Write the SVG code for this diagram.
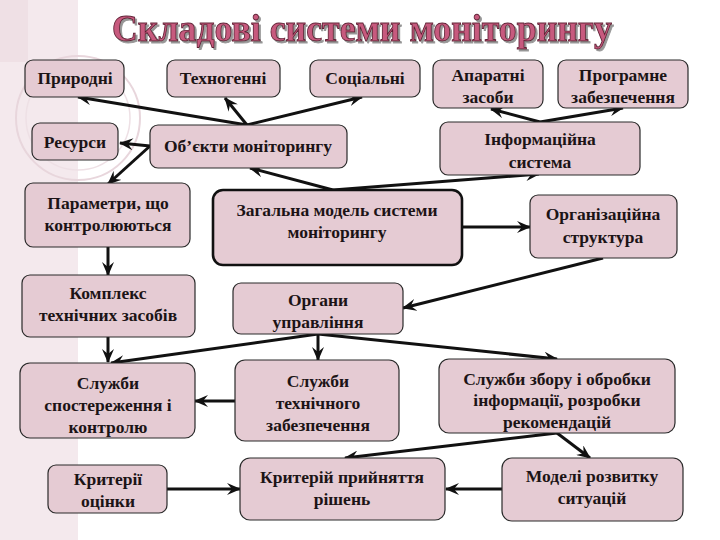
<svg xmlns="http://www.w3.org/2000/svg" width="720" height="540" viewBox="0 0 720 540">
<defs>
<style>
.n rect{fill:#e5cbd3;stroke:#2a2a2a;stroke-width:1.2}
.n.thick rect{stroke:#111;stroke-width:2.6}
.n text{font-weight:bold;font-size:17.5px;fill:#1c1416;text-anchor:middle}
.c path{fill:none;stroke:#111;stroke-width:3;stroke-linejoin:round}
</style>
<filter id="sh" x="-5%" y="-20%" width="110%" height="150%">
<feDropShadow dx="2" dy="2" stdDeviation="0.6" flood-color="#8a8a8a" flood-opacity="0.9"/>
</filter>
<marker id="ah" viewBox="0 0 14 12" refX="13" refY="6" markerWidth="14" markerHeight="12" markerUnits="userSpaceOnUse" orient="auto">
<path d="M0,0 L14,6 L0,12 L5,6 Z" fill="#111"/>
</marker>
</defs>
<rect x="0" y="0" width="720" height="540" fill="#ffffff"/>
<rect x="0" y="0" width="78" height="540" fill="#f4e9ed"/>
<rect x="0" y="0" width="28" height="62" fill="#efe0e5"/>
<circle cx="78" cy="118" r="62" fill="none" stroke="#e8d6dc" stroke-width="2"/>
<circle cx="78" cy="118" r="52" fill="none" stroke="#eee0e5" stroke-width="1.5"/>

<text x="362" y="41" font-family="'Liberation Serif', 'DejaVu Serif', serif" font-weight="bold" font-size="38" text-anchor="middle" textLength="500" lengthAdjust="spacingAndGlyphs" fill="#c75a7e" stroke="#5e1f33" stroke-width="0.9" filter="url(#sh)">Складові системи моніторингу</text>

<g id="connectors" class="c">
<path d="M247,125 L78,97" marker-end="url(#ah)"/>
<path d="M247,125 L225,98" marker-end="url(#ah)"/>
<path d="M247,125 L362,97" marker-end="url(#ah)"/>
<path d="M150,146 L120,143" marker-end="url(#ah)"/>
<path d="M150,146 L108,184" marker-end="url(#ah)"/>
<path d="M540,122 L491,109" marker-end="url(#ah)"/>
<path d="M540,122 L623,108" marker-end="url(#ah)"/>
<path d="M333,190 L250,168" marker-end="url(#ah)"/>
<path d="M333,190 L539,174" marker-end="url(#ah)"/>
<path d="M108,247 L108,275" marker-end="url(#ah)"/>
<path d="M462,227 L530,227" marker-end="url(#ah)"/>
<path d="M603,258 L403,308" marker-end="url(#ah)"/>
<path d="M108,337 L108,362" marker-end="url(#ah)"/>
<path d="M318,334 L111,363" marker-end="url(#ah)"/>
<path d="M318,334 L318,360" marker-end="url(#ah)"/>
<path d="M318,334 L557,359" marker-end="url(#ah)"/>
<path d="M235,401 L195,401" marker-end="url(#ah)"/>
<path d="M557,433 L345,458" marker-end="url(#ah)"/>
<path d="M557,433 L590,458" marker-end="url(#ah)"/>
<path d="M167,489 L240,489" marker-end="url(#ah)"/>
<path d="M502,489 L446,489" marker-end="url(#ah)"/>
</g>

<g font-family="'Liberation Serif', 'DejaVu Serif', serif">
<g id="n-pryrodni" class="n"><rect x="25" y="60" width="99" height="37" rx="8"/><text x="75" y="84">Природні</text></g>
<g id="n-tekhnohenni" class="n"><rect x="167" y="60" width="113" height="37" rx="8"/><text x="223" y="84">Техногенні</text></g>
<g id="n-sotsialni" class="n"><rect x="310" y="60" width="110" height="37" rx="8"/><text x="365" y="84">Соціальні</text></g>
<g id="n-aparatni" class="n"><rect x="433" y="60" width="110" height="48" rx="8"/><text x="488" y="81">Апаратні</text><text x="488" y="103">засоби</text></g>
<g id="n-prohramne" class="n"><rect x="558" y="60" width="130" height="48" rx="8"/><text x="623" y="81">Програмне</text><text x="623" y="103">забезпечення</text></g>
<g id="n-resursy" class="n"><rect x="32" y="123" width="86" height="37" rx="8"/><text x="75" y="148">Ресурси</text></g>
<g id="n-obiekty" class="n"><rect x="150" y="125" width="197" height="43" rx="8"/><text x="248" y="152">Об’єкти моніторингу</text></g>
<g id="n-informatsiina" class="n"><rect x="440" y="122" width="200" height="53" rx="8"/><text x="540" y="145">Інформаційна</text><text x="540" y="168">система</text></g>
<g id="n-parametry" class="n"><rect x="25" y="183" width="165" height="64" rx="8"/><text x="108" y="209">Параметри, що</text><text x="108" y="231">контролюються</text></g>
<g id="n-zahalna" class="n thick"><rect x="213" y="190" width="249" height="75" rx="10"/><text x="337" y="216">Загальна модель системи</text><text x="337" y="238">моніторингу</text></g>
<g id="n-orhanizatsiina" class="n"><rect x="530" y="195" width="147" height="63" rx="8"/><text x="603" y="220">Організаційна</text><text x="603" y="243">структура</text></g>
<g id="n-kompleks" class="n"><rect x="22" y="275" width="173" height="62" rx="8"/><text x="108" y="299">Комплекс</text><text x="108" y="321">технічних засобів</text></g>
<g id="n-orhany" class="n"><rect x="233" y="283" width="170" height="51" rx="8"/><text x="318" y="306">Органи</text><text x="318" y="328">управління</text></g>
<g id="n-sluzhby-sposterezhennia" class="n"><rect x="20" y="363" width="175" height="75" rx="10"/><text x="108" y="389">Служби</text><text x="108" y="411">спостереження і</text><text x="108" y="433">контролю</text></g>
<g id="n-sluzhby-tekhnichnoho" class="n"><rect x="235" y="360" width="164" height="81" rx="10"/><text x="318" y="387">Служби</text><text x="318" y="409">технічного</text><text x="318" y="431">забезпечення</text></g>
<g id="n-sluzhby-zboru" class="n"><rect x="439" y="359" width="236" height="74" rx="10"/><text x="557" y="385">Служби збору і обробки</text><text x="557" y="406">інформації, розробки</text><text x="557" y="428">рекомендацій</text></g>
<g id="n-kryterii-otsinky" class="n"><rect x="48" y="465" width="119" height="48" rx="8"/><text x="108" y="485">Критерії</text><text x="108" y="507">оцінки</text></g>
<g id="n-kryterii-pryiniattia" class="n"><rect x="240" y="458" width="205" height="62" rx="10"/><text x="342" y="483">Критерій прийняття</text><text x="342" y="505">рішень</text></g>
<g id="n-modeli" class="n"><rect x="502" y="458" width="181" height="63" rx="10"/><text x="592" y="482">Моделі розвитку</text><text x="592" y="504">ситуацій</text></g>
</g>
</svg>
